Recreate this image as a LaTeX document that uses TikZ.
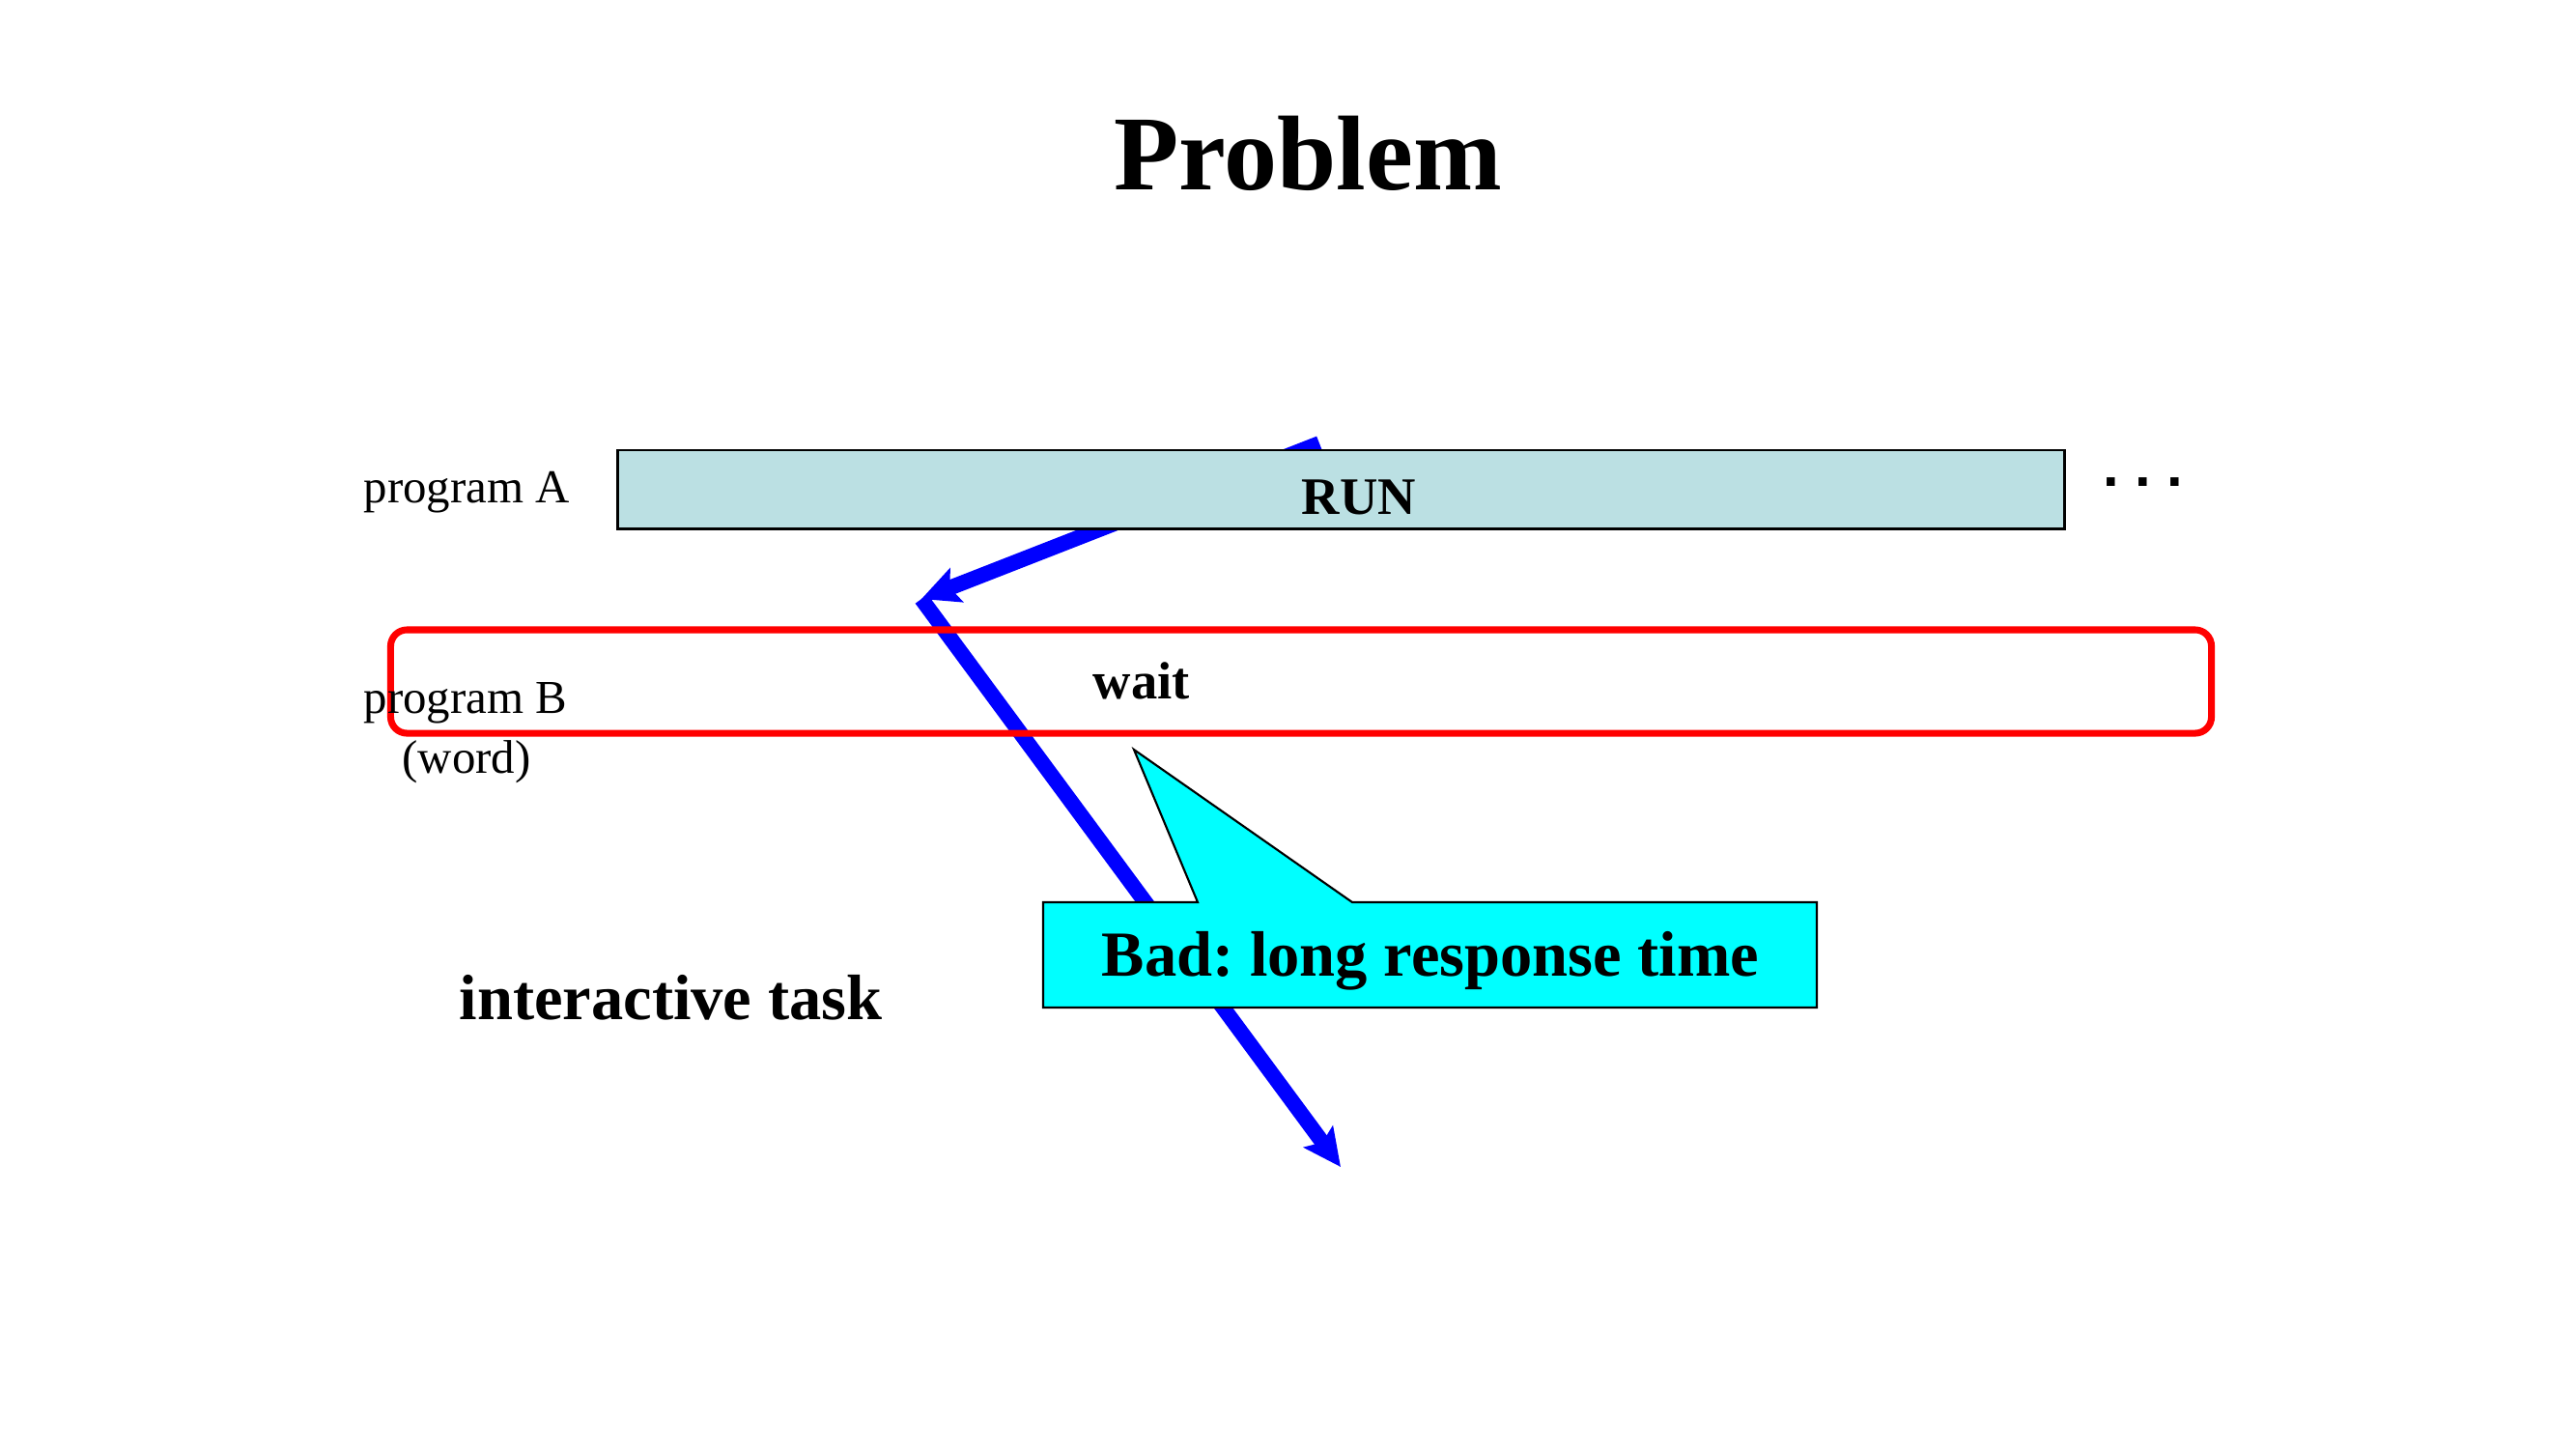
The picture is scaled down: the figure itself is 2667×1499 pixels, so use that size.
\documentclass[tikz,border=0pt]{standalone}
\usepackage{fontspec}
\setmainfont{Liberation Serif}
\newfontfamily\dotfont{Liberation Sans}
\usetikzlibrary{arrows.meta}
\definecolor{runfill}{HTML}{BBE0E3}
\definecolor{pred}{HTML}{FF0000}
\definecolor{pblue}{HTML}{0000FF}
\definecolor{pcyan}{HTML}{00FFFF}
\frenchspacing
\begin{document}
\begin{tikzpicture}[x=0.01cm,y=-0.01cm,
  txt/.style={inner sep=0pt, anchor=base},
  titlefont/.style={font=\fontsize{31.3pt}{37pt}\selectfont\bfseries},
  labfont/.style={font=\fontsize{13.9pt}{17pt}\selectfont},
  midfont/.style={font=\fontsize{15.5pt}{18pt}\selectfont\bfseries},
  bigfont/.style={font=\fontsize{18.9pt}{22pt}\selectfont\bfseries},
  runbar/.style={draw=black, line width=0.85pt, fill=runfill, inner sep=0pt},
  waitbar/.style={draw=pred, line width=2pt, rounded corners=4.8pt, inner sep=0pt},
  flow/.style={draw=pblue, line width=4.5pt, -{Stealth[length=11pt,width=10.5pt,inset=2pt]}},
  callout/.style={draw=black, line width=0.6pt, fill=pcyan, line join=miter}
]
\useasboundingbox (0,0) rectangle (2667,1499);

% blue flow arrows (behind everything)
\coordinate (a0) at (1366,459);
\coordinate (a1) at (954,620);
\coordinate (a2) at (1388,1208);
\draw[flow] (a0) -- (a1);
\draw[flow] (a1) -- (a2);

% title
\node[txt, titlefont] (title) at (1354,196) {Problem};

% program A
\node[runbar, minimum width=14.97cm, minimum height=0.81cm] (runbox) at (1388.5,506.5) {};
\node[txt, midfont] (run) at (1407,532) {RUN};
\node[txt, labfont, anchor=base west] (progA) at (376,520) {program A};
\node[txt, font=\dotfont\fontsize{17pt}{20pt}\selectfont\bfseries] (dots) at (2219,503) {. . .};

% program B
\node[waitbar, minimum width=18.84cm, minimum height=1.07cm] (waitbox) at (1347,705.5) {};
\node[txt, midfont, anchor=base west] (wait) at (1131,723) {wait};
\node[txt, labfont, anchor=base west] (progB) at (376,738) {program B};
\node[txt, labfont] (word) at (483,800) {(word)};

% callout
\coordinate (ctip) at (1174,776);
\path[callout] (1080,934) -- (1240,934) -- (ctip) -- (1400,934) -- (1881,934)
  -- (1881,1043) -- (1080,1043) -- cycle;
\node[txt, bigfont] (bad) at (1481,1010) {Bad: long response time};

% interactive task
\node[txt, bigfont, anchor=base west] (inter) at (475,1055) {interactive task};
\end{tikzpicture}
\end{document}
